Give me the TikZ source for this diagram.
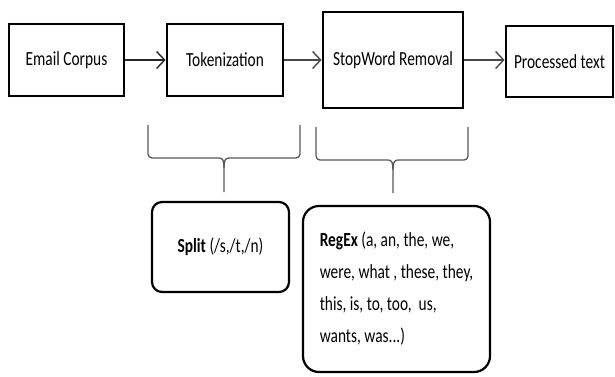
\documentclass[tikz,border=0pt]{standalone}
\usepackage{fontspec}
\setmainfont{Carlito}
\usetikzlibrary{arrows.meta}
\newcommand\sqz[1]{\scalebox{0.77}[1]{#1}}
\begin{document}
\begin{tikzpicture}[x=1pt,y=-1pt,
  box/.style={draw=black,line width=2.8pt,minimum width=#1,inner sep=0pt,font=\fontsize{20}{24}\selectfont},
  rbox/.style={draw=black,line width=2.2pt,rounded corners=12pt,inner sep=0pt,font=\fontsize{20}{32}\selectfont,align=left},
  flow/.style={line width=1.8pt,draw=black!72,-{Straight Barb[length=8pt,width=17pt,line width=1.4pt]}},
  brace/.style={line width=1.3pt,draw=black!65,rounded corners=4pt}]
\useasboundingbox (0,0) rectangle (615,376);
\node[box=115pt,minimum height=72pt] (email) at (66.5,60) {\sqz{Email Corpus}};
\node[box=116pt,minimum height=72pt] (token) at (225,60) {\sqz{Tokenization}};
\node[box=140pt,minimum height=96pt] (stop) at (393,60) {\sqz{StopWord Removal}};
\node[box=107pt,minimum height=71pt] (proc) at (559.5,61.5) {\sqz{Processed text}};
\draw[flow,draw=black!85] (email.east) -- (token.west);
\draw[flow] (token.east) -- (token.east -| stop.west);
\draw[flow] (stop.east) -- (stop.east -| proc.west);
% braces
\coordinate (b1l) at (148,125);
\coordinate (b1r) at (300,125);
\coordinate (b1t) at (224,192);
\coordinate (b2l) at (316,127);
\coordinate (b2r) at (468,127);
\coordinate (b2t) at (393,193);
\draw[brace] (b1l) -- (148,158) -- (219,158);
\draw[brace] (b1r) -- (300,158) -- (229,158);
\draw[line width=1.3pt,draw=black!65] (219,158) .. controls (223,158) and (224,161) .. (224,168) -- (b1t);
\draw[line width=1.3pt,draw=black!65] (229,158) .. controls (225,158) and (224,161) .. (224,168);
\draw[brace] (b2l) -- (316,160) -- (388,160);
\draw[brace] (b2r) -- (468,160) -- (398,160);
\draw[line width=1.3pt,draw=black!65] (388,160) .. controls (392,160) and (393,163) .. (393,170) -- (b2t);
\draw[line width=1.3pt,draw=black!65] (398,160) .. controls (394,160) and (393,163) .. (393,170);
\node[rbox,minimum width=137pt,minimum height=90pt,rounded corners=10pt] (split) at (220.5,247) {\sqz{\textbf{Split} (/s,/t,/n)}};
\node[rbox,minimum width=187pt,minimum height=166pt,rounded corners=16pt] (regex) at (396.5,289)
  {\sqz{\textbf{RegEx} (a, an, the, we,}\\\sqz{were, what , these, they,}\\\sqz{this, is, to, too,~ us,}\\\sqz{wants, was...)}};
\end{tikzpicture}
\end{document}
